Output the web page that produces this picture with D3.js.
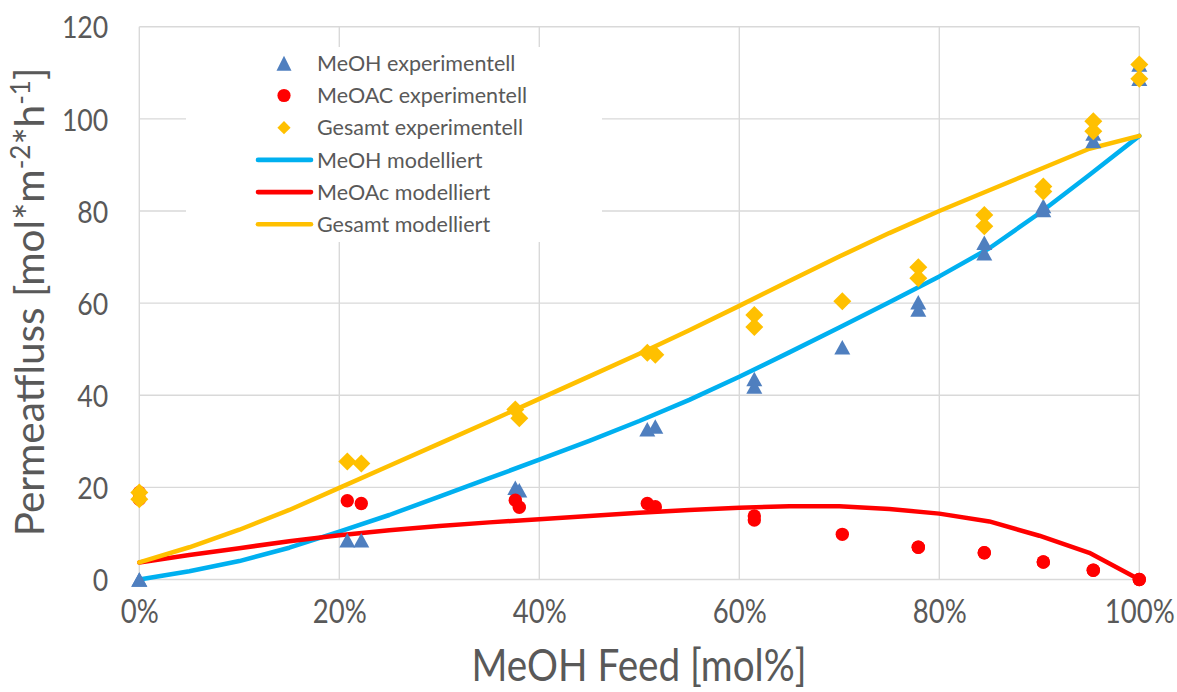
<!DOCTYPE html>
<html>
<head>
<meta charset="utf-8">
<script src="https://cdn.jsdelivr.net/npm/d3@7"></script>
<style>
  html, body { margin: 0; padding: 0; background: #fff; }
  svg { display: block; }
</style>
</head>
<body>
<script>
// Experimental permeate fluxes versus MeOH feed fraction (mol%)
const feedExp  = [0, 0, 20.8, 22.2, 37.6, 38.0, 50.8, 51.6, 61.5, 61.5, 70.3, 77.9, 77.9, 84.5, 84.5, 90.4, 90.4, 95.4, 95.4, 100, 100];
const meohExp  = [0, 0, 8.5, 8.5, 19.9, 19.4, 32.6, 33.2, 43.5, 41.9, 50.4, 60.2, 58.6, 73.1, 70.8, 81.1, 80.2, 96.8, 95.2, 111.8, 108.7];
const meoacExp = [18.9, 17.4, 17.1, 16.5, 17.2, 15.7, 16.5, 15.8, 13.8, 12.9, 9.8, 7.0, 7.0, 5.8, 5.8, 3.8, 3.8, 2.0, 2.0, 0, 0];
const totalExp = [18.9, 17.4, 25.6, 25.2, 36.9, 35.0, 49.2, 48.8, 57.4, 54.8, 60.4, 67.8, 65.4, 79.1, 76.7, 85.3, 84.2, 99.5, 97.3, 111.8, 108.7];

// Model curves, evaluated every 5 mol%
const feedModel  = [0, 5, 10, 15, 20, 25, 30, 35, 40, 45, 50, 55, 60, 65, 70, 75, 80, 85, 90, 95, 100];
const meohModel  = [0, 1.8, 4.0, 6.9, 10.4, 14.0, 18.0, 22.0, 26.0, 30.1, 34.4, 39.0, 44.0, 49.3, 54.7, 60.2, 65.8, 71.9, 79.5, 87.8, 96.3];
const meoacModel = [3.7, 5.3, 6.8, 8.3, 9.6, 10.7, 11.6, 12.4, 13.1, 13.8, 14.5, 15.1, 15.6, 15.9, 15.9, 15.3, 14.3, 12.6, 9.5, 5.8, 0];
const totalModel = [3.7, 7.0, 10.8, 15.1, 19.9, 24.7, 29.5, 34.3, 39.2, 44.1, 49.0, 54.1, 59.4, 64.8, 70.1, 75.2, 80.0, 84.5, 89.0, 93.5, 96.3];

const xTicks = [0, 20, 40, 60, 80, 100];
const yTicks = [0, 20, 40, 60, 80, 100, 120];

const legendLabels = ["MeOH experimentell", "MeOAC experimentell", "Gesamt experimentell",
                      "MeOH modelliert", "MeOAc modelliert", "Gesamt modelliert"];

const W = 1177, H = 692;
const margin = {left: 139.3, right: 37.7, top: 26.7, bottom: 112.5};
const innerW = W - margin.left - margin.right;
const innerH = H - margin.top - margin.bottom;

const C = {
  triangle: "#4F7FBF", dot: "#FF0000", diamond: "#FFC000",
  lineMeoh: "#00B0F0", lineMeoac: "#FF0000", lineTotal: "#FFC000",
  grid: "#D9D9D9", text: "#595959"
};
const FONT = "Lato, 'Open Sans', sans-serif";

const svg = d3.select("body").append("svg").attr("width", W).attr("height", H);

const x = d3.scaleLinear().domain([0, 100]).range([margin.left, margin.left + innerW]);
const y = d3.scaleLinear().domain([0, 120]).range([margin.top + innerH, margin.top]);

// Grid
const grid = svg.append("g");
grid.selectAll("line.h").data(yTicks).join("line")
  .attr("x1", x(0)).attr("x2", x(100))
  .attr("y1", d => y(d)).attr("y2", d => y(d))
  .attr("stroke", C.grid).attr("stroke-width", 1.4);
grid.selectAll("line.v").data(xTicks).join("line")
  .attr("x1", d => x(d)).attr("x2", d => x(d))
  .attr("y1", y(0)).attr("y2", y(120))
  .attr("stroke", C.grid).attr("stroke-width", 1.4);

// Axes (tick labels only; the grid carries the lines)
const yAxis = d3.axisLeft(y).tickValues(yTicks).tickSize(0).tickPadding(0);
const gy = svg.append("g").attr("transform", `translate(${x(0) - 31},0)`).call(yAxis);
gy.select(".domain").remove();
gy.selectAll("text")
  .attr("font-family", FONT).attr("font-size", 31).attr("fill", C.text)
  .attr("dy", "0.36em")
  .style("transform-box", "fill-box").style("transform-origin", "right center")
  .style("transform", "scaleX(0.86)");

const xAxis = d3.axisBottom(x).tickValues(xTicks).tickFormat(d => d + "%").tickSize(0).tickPadding(0);
const gx = svg.append("g").attr("transform", `translate(0,${y(0) + 32})`).call(xAxis);
gx.select(".domain").remove();
gx.selectAll("text")
  .attr("font-family", FONT).attr("font-size", 32).attr("fill", C.text)
  .attr("dy", "0.36em")
  .style("transform-box", "fill-box").style("transform-origin", "center center")
  .style("transform", "scaleX(0.86)");

// Axis titles
svg.append("text")
  .attr("x", 0).attr("y", 0)
  .attr("transform", `translate(639,681) scale(0.86,1)`)
  .attr("text-anchor", "middle")
  .attr("font-family", FONT).attr("font-size", 45).attr("fill", C.text)
  .text("MeOH Feed [mol%]");

const yt = svg.append("text")
  .attr("transform", `translate(44,302) rotate(-90)`)
  .attr("text-anchor", "middle")
  .attr("font-family", FONT).attr("font-size", 40.5).attr("fill", C.text);
yt.append("tspan").text("Permeatfluss [mol*m");
yt.append("tspan").attr("font-size", 26).attr("dy", -14).text("-2");
yt.append("tspan").attr("dy", 14).text("*h");
yt.append("tspan").attr("font-size", 26).attr("dy", -14).text("-1");
yt.append("tspan").attr("dy", 14).text("]");

// Model lines
const models = [
  {vals: meohModel, color: C.lineMeoh},
  {vals: meoacModel, color: C.lineMeoac},
  {vals: totalModel, color: C.lineTotal}
];
const line = d3.line().x(d => x(d[0])).y(d => y(d[1]));
svg.append("g").selectAll("path").data(models).join("path")
  .attr("d", m => line(feedModel.map((f, i) => [f, m.vals[i]])))
  .attr("fill", "none").attr("stroke", m => m.color)
  .attr("stroke-width", 4.5).attr("stroke-linejoin", "round").attr("stroke-linecap", "round");

// Marker shapes
function triPath(cx, cy, w, h) {
  return `M${cx},${cy - h / 2}L${cx + w / 2},${cy + h / 2}L${cx - w / 2},${cy + h / 2}Z`;
}
function diaPath(cx, cy, r) {
  return `M${cx},${cy - r}L${cx + r},${cy}L${cx},${cy + r}L${cx - r},${cy}Z`;
}

const expRows = feedExp.map((f, i) => ({f, meoh: meohExp[i], meoac: meoacExp[i], total: totalExp[i]}));

svg.append("g").selectAll("path").data(expRows).join("path")
  .attr("d", d => triPath(x(d.f), y(d.meoh), 16, 14.5))
  .attr("fill", C.triangle);
svg.append("g").selectAll("circle").data(expRows).join("circle")
  .attr("cx", d => x(d.f)).attr("cy", d => y(d.meoac)).attr("r", 6.7)
  .attr("fill", C.dot);
svg.append("g").selectAll("path").data(expRows).join("path")
  .attr("d", d => diaPath(x(d.f), y(d.total), 9))
  .attr("fill", C.diamond);

// Legend
const lg = svg.append("g");
lg.append("rect").attr("x", 186).attr("y", 47).attr("width", 416).attr("height", 195).attr("fill", "#fff");
const rowY = i => 63.3 + i * 32.2;
const mx = 284;
lg.append("path").attr("d", triPath(mx, rowY(0), 15, 15)).attr("fill", C.triangle);
lg.append("circle").attr("cx", mx).attr("cy", rowY(1)).attr("r", 6.6).attr("fill", C.dot);
lg.append("path").attr("d", diaPath(mx, rowY(2), 6.6)).attr("fill", C.diamond);
[C.lineMeoh, C.lineMeoac, C.lineTotal].forEach((c, k) => {
  lg.append("line").attr("x1", 258).attr("x2", 311)
    .attr("y1", rowY(3 + k)).attr("y2", rowY(3 + k))
    .attr("stroke", c).attr("stroke-width", 4.6).attr("stroke-linecap", "round");
});
lg.selectAll("text").data(legendLabels).join("text")
  .attr("x", 317).attr("y", (d, i) => rowY(i))
  .attr("dy", "0.36em")
  .attr("font-family", FONT).attr("font-size", 21.5).attr("fill", C.text)
  .text(d => d);
</script>
</body>
</html>
